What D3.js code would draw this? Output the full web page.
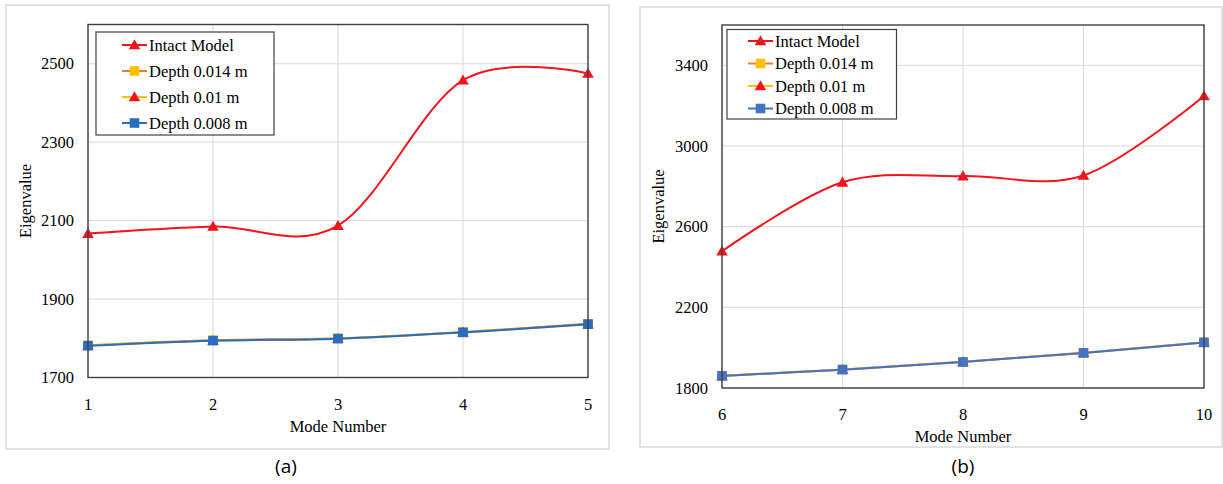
<!DOCTYPE html>
<html lang="en">
  <head>
    <meta charset="UTF-8" />
    <title>Eigenvalue vs Mode Number</title>
    <script src="https://d3js.org/d3.v7.min.js"></script>
    <style>
      body {
        margin: 0;
        background: #fff;
        overflow: hidden;
      }
      svg text {
        font-family: "Liberation Serif", "Times New Roman", serif;
        fill: #000;
      }
      svg text.caption {
        font-family: "Open Sans", "Noto Sans", sans-serif;
      }
    </style>
  </head>
  <body>
    <svg id="chart" width="1223" height="484"></svg>
    <script>
      // panel (a): modes 1-5
      const modesA = [1, 2, 3, 4, 5];
      const intactA = [2067, 2085, 2087, 2458, 2475];
      const depth014A = [1782, 1795, 1800, 1816, 1837];
      const depth010A = [1782, 1794, 1799, 1815, 1836];
      const depth008A = [1781, 1794, 1799, 1815, 1836];
      const yTicksA = [1700, 1900, 2100, 2300, 2500];

      // panel (b): modes 6-10
      const modesB = [6, 7, 8, 9, 10];
      const intactB = [2478, 2820, 2851, 2854, 3248];
      const depth014B = [1861, 1892, 1930, 1975, 2027];
      const depth010B = [1860, 1891, 1929, 1974, 2026];
      const depth008B = [1860, 1891, 1929, 1974, 2026];
      const yTicksB = [1800, 2200, 2600, 3000, 3400];

      const seriesNames = ["Intact Model", "Depth 0.014 m", "Depth 0.01 m", "Depth 0.008 m"];
      const lineColors = ["#f2141c", "#ed7d31", "#ffc000", "#3f6fc0"];
      const markerColors = ["#f2141c", "#ffc000", "#f2141c", "#3f6fc0"];
      const markerShapes = ["triangle", "square", "triangle", "square"];

      const svg = d3.select("#chart");

      function marker(g, shape, color, x, y) {
        if (shape === "triangle") {
          g.append("path")
            .attr("d", d3.symbol().type(d3.symbolTriangle).size(58)())
            .attr("transform", `translate(${x},${y + 1})`)
            .attr("fill", color);
        } else {
          g.append("rect")
            .attr("x", x - 4.8)
            .attr("y", y - 4.8)
            .attr("width", 9.6)
            .attr("height", 9.6)
            .attr("fill", color);
        }
      }

      function drawPanel(cfg) {
        const g = svg.append("g");
        const blue = cfg.blue;
        const lc = lineColors.map((c, i) => (i === 3 ? blue : c));
        const mc = markerColors.map((c, i) => (i === 3 ? blue : c));

        // outer frame
        g.append("rect")
          .attr("x", cfg.frame[0])
          .attr("y", cfg.frame[1])
          .attr("width", cfg.frame[2] - cfg.frame[0])
          .attr("height", cfg.frame[3] - cfg.frame[1])
          .attr("fill", "none")
          .attr("stroke", "#d9d9d9")
          .attr("stroke-width", 1.5);

        const x = d3.scaleLinear().domain(d3.extent(cfg.modes)).range([cfg.left, cfg.right]);
        const y = d3.scaleLinear().domain(cfg.yDomain).range([cfg.bottom, cfg.top]);

        // grid
        g.selectAll(".hgrid")
          .data(cfg.yTicks)
          .enter()
          .append("line")
          .attr("x1", cfg.left)
          .attr("x2", cfg.right)
          .attr("y1", (d) => y(d))
          .attr("y2", (d) => y(d))
          .attr("stroke", "#d9d9d9")
          .attr("stroke-width", 1);
        g.selectAll(".vgrid")
          .data(cfg.modes)
          .enter()
          .append("line")
          .attr("x1", (d) => x(d))
          .attr("x2", (d) => x(d))
          .attr("y1", cfg.top)
          .attr("y2", cfg.bottom)
          .attr("stroke", "#d9d9d9")
          .attr("stroke-width", 1);

        // tick labels
        g.selectAll(".ylab")
          .data(cfg.yTicks)
          .enter()
          .append("text")
          .attr("x", cfg.left - 14)
          .attr("y", (d) => y(d) + 5.5)
          .attr("text-anchor", "end")
          .attr("font-size", "16.5px")
          .text((d) => d);
        g.selectAll(".xlab")
          .data(cfg.modes)
          .enter()
          .append("text")
          .attr("x", (d) => x(d))
          .attr("y", cfg.bottom + 32)
          .attr("text-anchor", "middle")
          .attr("font-size", "16.5px")
          .text((d) => d);

        // axis titles
        g.append("text")
          .attr("transform", `translate(${cfg.yTitleX},${(cfg.top + cfg.bottom) / 2}) rotate(-90)`)
          .attr("text-anchor", "middle")
          .attr("font-size", "16.5px")
          .text("Eigenvalue");
        g.append("text")
          .attr("x", (cfg.left + cfg.right) / 2)
          .attr("y", cfg.bottom + 54)
          .attr("text-anchor", "middle")
          .attr("font-size", "16.5px")
          .text("Mode Number");

        // series
        const line = d3
          .line()
          .x((d) => x(d[0]))
          .y((d) => y(d[1]))
          .curve(d3.curveCardinal.tension(0));

        [0, 1, 2, 3].forEach((i) => {
          const pts = cfg.modes.map((m, k) => [m, cfg.series[i][k]]);
          g.append("path")
            .attr("d", line(pts))
            .attr("fill", "none")
            .attr("stroke", lc[i])
            .attr("stroke-width", 2);
          pts.forEach((p) => marker(g, markerShapes[i], mc[i], x(p[0]), y(p[1])));
        });

        // plot border
        g.append("rect")
          .attr("x", cfg.left)
          .attr("y", cfg.top)
          .attr("width", cfg.right - cfg.left)
          .attr("height", cfg.bottom - cfg.top)
          .attr("fill", "none")
          .attr("stroke", "#404040")
          .attr("stroke-width", 1.4);

        // legend
        const L = cfg.legend;
        g.append("rect")
          .attr("x", L.x0)
          .attr("y", L.y0)
          .attr("width", L.x1 - L.x0)
          .attr("height", L.y1 - L.y0)
          .attr("fill", "#fff")
          .attr("stroke", "#404040")
          .attr("stroke-width", 1.2);
        seriesNames.forEach((name, i) => {
          const ly = L.firstY + i * L.step;
          g.append("line")
            .attr("x1", L.lineX)
            .attr("x2", L.lineX + 25)
            .attr("y1", ly)
            .attr("y2", ly)
            .attr("stroke", lc[i])
            .attr("stroke-width", 2);
          marker(g, markerShapes[i], mc[i], L.lineX + 12.5, ly);
          g.append("text")
            .attr("x", L.lineX + 27)
            .attr("y", ly + 5.5)
            .attr("font-size", "16.5px")
            .text(name);
        });

        // caption
        g.append("text")
          .attr("class", "caption")
          .attr("x", cfg.captionX)
          .attr("y", 473)
          .attr("text-anchor", "middle")
          .attr("font-size", "19px")
          .text(cfg.caption);
      }

      drawPanel({
        frame: [6, 5, 609, 449],
        left: 88,
        right: 588,
        top: 24.5,
        bottom: 377.5,
        yDomain: [1700, 2600],
        yTicks: yTicksA,
        modes: modesA,
        series: [intactA, depth014A, depth010A, depth008A],
        yTitleX: 31,
        blue: "#2a6cc0",
        legend: { x0: 96, y0: 32, x1: 274, y1: 135, firstY: 45, step: 26, lineX: 122 },
        caption: "(a)",
        captionX: 286,
      });

      drawPanel({
        frame: [640, 7, 1222, 447],
        left: 722,
        right: 1204,
        top: 25,
        bottom: 388,
        yDomain: [1800, 3600],
        yTicks: yTicksB,
        modes: modesB,
        series: [intactB, depth014B, depth010B, depth008B],
        yTitleX: 664,
        blue: "#4472c4",
        legend: { x0: 727, y0: 29.5, x1: 896.5, y1: 119, firstY: 41, step: 22.5, lineX: 748 },
        caption: "(b)",
        captionX: 963,
      });
    </script>
  </body>
</html>
